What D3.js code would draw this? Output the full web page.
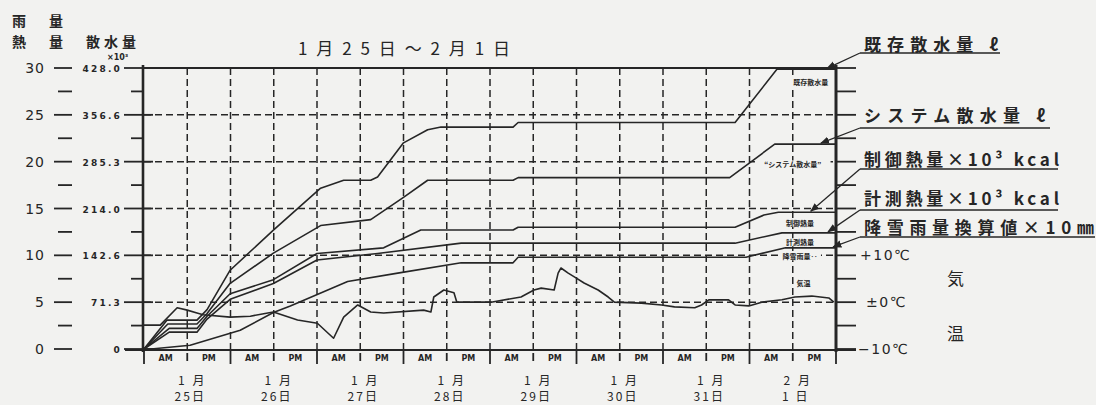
<!DOCTYPE html>
<html>
<head>
<meta charset="utf-8">
<script src="https://cdn.jsdelivr.net/npm/d3@7"></script>
<style>
body { margin: 0; background: #f2f2f0; }
svg text { fill: #262626; }
.jp { font-family: "Noto Sans CJK JP", sans-serif; }
.num { font-family: "DejaVu Sans", sans-serif; }
</style>
</head>
<body>
<svg id="chart" width="1096" height="405"></svg>
<script>
// hours counted from 1/25 0:00 ; sprinkling in x10^3 l, heat in x10^3 kcal, rain in x10 mm
const kizonSpray = [[0,0],[6.4,44],[14.7,44],[17.5,60],[23.9,120],[35.9,181],[49,245],[55.4,257],[62.9,257],[64.8,262],[72,314],[78.7,334],[82.4,338],[102.4,338],[103.8,345],[164,345],[175.6,426],[192,426]];
const systemSpray = [[0,0],[6.6,38],[14.7,38],[17.5,54],[23.9,100],[35.9,146],[49,188],[62.9,197],[72,231],[78.7,257],[102.4,257],[103.8,261],[162.5,261],[175,312],[192,312]];
const ctrlHeat = [[0,0],[7,2.2],[14.7,2.2],[17.5,3.5],[23.9,5.9],[35.9,7.4],[48,10.2],[66.5,10.8],[76.8,12.7],[102.4,12.7],[103.8,13.0],[164,13.0],[172,14.3],[176,14.6],[192,14.6]];
const measHeat = [[0,0],[7,1.8],[14.7,1.8],[17.5,3.2],[23.9,5.3],[35.9,7.0],[48,9.5],[64.8,10.2],[88,11.3],[164,11.3],[177,12.4],[192,12.4]];
const snowRain = [[0,0],[2,0],[12.8,0.4],[26.7,2.0],[35.9,3.9],[40.6,4.6],[56.5,7.2],[70.4,8.1],[88,9.2],[102.4,9.2],[103.8,9.8],[167,9.8],[178,10.8],[192,10.8]];
const airTemp = [[0,-4.9],[4.5,-4.9],[9.2,-1.2],[12,-1.7],[14.7,-2.3],[16.4,-2.7],[23.9,-3.2],[29.5,-3.0],[35.9,-2.1],[42.6,-3.8],[48.1,-4.5],[52.6,-7.7],[55.4,-3.2],[59.3,-0.6],[62.9,-2.1],[66.5,-2.3],[77.6,-1.7],[79.6,-2.1],[80.4,1.1],[83.2,2.6],[86,2.0],[86.8,0.0],[96.3,0.0],[104.6,1.1],[108.2,2.6],[110.2,3.0],[113.8,2.6],[114.9,6.2],[115.7,7.3],[117.7,6.2],[119.4,5.4],[122.1,4.1],[126,2.6],[128.8,1.1],[130.5,0.0],[138,-0.2],[143.6,-0.6],[147.2,-1.0],[152.8,-1.2],[154.7,-0.6],[156.7,0.5],[162.2,0.5],[164,-0.6],[167.8,-0.8],[171.4,0.0],[177,0.5],[180.6,1.1],[185.3,1.3],[190,0.9],[191.4,0.0]];

const heatTicks = [0, 5, 10, 15, 20, 25, 30];
const sprayTickLabels = ["0", "71.3", "142.6", "214.0", "285.3", "356.6", "428.0"];
const tempTicks = [-10, 0, 10];
const tempTickLabels = ["−10℃", "±0℃", "+10℃"];
const dayMonths = ["1 月", "1 月", "1 月", "1 月", "1 月", "1 月", "1 月", "2 月"];
const dayDates = ["25日", "26日", "27日", "28日", "29日", "30日", "31日", "1 日"];

const ink = "#262626";
const svg = d3.select("#chart");
svg.append("rect").attr("width", 1096).attr("height", 405).attr("fill", "#f2f2f0");

const x = d3.scaleLinear().domain([0, 192]).range([144, 836]);
const yHeat = d3.scaleLinear().domain([0, 30]).range([349, 68]);
const ySpray = d3.scaleLinear().domain([0, 428]).range([349, 68]);
const yTemp = d3.scaleLinear().domain([-10, 10]).range([yHeat(0), yHeat(10)]);

svg.append("defs").append("marker").attr("id", "arr")
  .attr("viewBox", "0 0 10 10").attr("refX", 9).attr("refY", 5)
  .attr("markerWidth", 7).attr("markerHeight", 7).attr("orient", "auto")
  .append("path").attr("d", "M0,1 L10,5 L0,9 z").attr("fill", ink);

// grid
const grid = svg.append("g").attr("stroke", ink).attr("stroke-width", 1.5).attr("stroke-dasharray", "7,4");
grid.selectAll("line.h").data(heatTicks.slice(1, -1)).join("line")
  .attr("x1", x(0)).attr("x2", x(192)).attr("y1", d => yHeat(d)).attr("y2", d => yHeat(d));
grid.selectAll("line.v").data(d3.range(12, 192, 12)).join("line")
  .attr("x1", d => x(d)).attr("x2", d => x(d)).attr("y1", yHeat(30)).attr("y2", yHeat(0));

// frame
const frame = svg.append("g").attr("stroke", ink).attr("fill", "none");
frame.append("line").attr("x1", x(0) - 1).attr("x2", x(0) - 1).attr("y1", yHeat(30) - 3).attr("y2", yHeat(0) + 3).attr("stroke-width", 2.6);
frame.append("line").attr("x1", x(192)).attr("x2", x(192)).attr("y1", yHeat(30) - 3).attr("y2", yHeat(0) + 3).attr("stroke-width", 3);
frame.append("line").attr("x1", x(0)).attr("x2", x(192)).attr("y1", yHeat(30)).attr("y2", yHeat(30)).attr("stroke-width", 2);
frame.append("line").attr("x1", 125).attr("x2", 856).attr("y1", yHeat(0) + 1).attr("y2", yHeat(0) + 1).attr("stroke-width", 2.2);

// left ticks and labels
const minor = d3.range(0, 30.1, 2.5);
frame.selectAll("line.lm").data(minor).join("line")
  .attr("x1", d => d % 5 === 0 ? 54 : 58).attr("x2", 72)
  .attr("y1", d => yHeat(d)).attr("y2", d => yHeat(d)).attr("stroke-width", 1.8);
frame.selectAll("line.la").data(minor).join("line")
  .attr("x1", d => d % 5 === 0 ? 124 : 131).attr("x2", d => d % 5 === 0 ? 153 : 143)
  .attr("y1", d => yHeat(d)).attr("y2", d => yHeat(d)).attr("stroke-width", 1.8);
frame.selectAll("line.r").data(minor).join("line")
  .attr("x1", x(192)).attr("x2", 856)
  .attr("y1", d => yHeat(d)).attr("y2", d => yHeat(d)).attr("stroke-width", 1.8);

svg.selectAll("text.hl").data(heatTicks).join("text").attr("class", "num")
  .attr("x", 45).attr("y", d => yHeat(d) + 5).attr("text-anchor", "end")
  .attr("font-size", 14).attr("letter-spacing", 1).text(d => d);
svg.selectAll("text.sl").data(heatTicks).join("text").attr("class", "num")
  .attr("x", 122).attr("y", d => yHeat(d) + 4).attr("text-anchor", "end")
  .attr("font-size", 9).attr("font-weight", "bold").attr("letter-spacing", 2.2)
  .text((d, i) => sprayTickLabels[i]);

svg.selectAll("text.tl").data(tempTicks).join("text").attr("class", "num")
  .attr("x", (d, i) => [858, 866, 860][i]).attr("y", d => yTemp(d) + 5)
  .attr("font-size", 14).attr("letter-spacing", 1.5).text((d, i) => tempTickLabels[i]);

// headers
const hdr = [["雨", 12, 26], ["量", 49, 26], ["熱", 12, 47], ["量", 49, 47]];
svg.selectAll("text.hd").data(hdr).join("text").attr("class", "jp")
  .attr("x", d => d[1]).attr("y", d => d[2]).attr("font-size", 14).attr("font-weight", "bold").text(d => d[0]);
svg.append("text").attr("class", "jp").attr("x", 86).attr("y", 47).attr("font-size", 14)
  .attr("font-weight", "bold").attr("textLength", 50).text("散水量");
svg.append("text").attr("class", "num").attr("x", 107).attr("y", 60).attr("font-size", 8)
  .attr("font-weight", "bold").text("×10³");
svg.append("text").attr("class", "jp").attr("x", 298).attr("y", 55).attr("font-size", 17)
  .attr("textLength", 212).attr("lengthAdjust", "spacing").text("1月25日～2月1日");
svg.append("text").attr("class", "jp").attr("x", 947).attr("y", 285).attr("font-size", 17).text("気");
svg.append("text").attr("class", "jp").attr("x", 947).attr("y", 340).attr("font-size", 17).text("温");

// x axis ticks
const xa = svg.append("g").attr("stroke", ink).attr("stroke-width", 1.8);
xa.selectAll("line.d").data(d3.range(0, 193, 24)).join("line")
  .attr("x1", d => x(d)).attr("x2", d => x(d)).attr("y1", 350).attr("y2", 364);
xa.selectAll("line.hd").data(d3.range(12, 192, 24)).join("line")
  .attr("x1", d => x(d)).attr("x2", d => x(d)).attr("y1", 353).attr("y2", 361);
svg.selectAll("text.ap").data(d3.range(6, 192, 12)).join("text").attr("class", "num")
  .attr("x", d => x(d)).attr("y", 361).attr("text-anchor", "middle").attr("font-size", 8)
  .attr("font-weight", "bold").text((d, i) => i % 2 ? "PM" : "AM");
svg.selectAll("text.mo").data(dayMonths).join("text").attr("class", "jp")
  .attr("x", (d, i) => x(i * 24 + 12) + 4).attr("y", 385).attr("text-anchor", "middle")
  .attr("font-size", 12).attr("xml:space", "preserve").text(d => d.replace(" ", "   "));
svg.selectAll("text.dt").data(dayDates).join("text").attr("class", "jp")
  .attr("x", (d, i) => x(i * 24 + 12) + 3).attr("y", 401).attr("text-anchor", "middle")
  .attr("font-size", 12).attr("letter-spacing", 2).attr("xml:space", "preserve").text(d => d);

// series
const series = [
  { d: kizonSpray, y: ySpray }, { d: systemSpray, y: ySpray },
  { d: ctrlHeat, y: yHeat }, { d: measHeat, y: yHeat },
  { d: snowRain, y: yHeat }, { d: airTemp, y: yTemp }
];
series.forEach(s => {
  svg.append("path").datum(s.d).attr("fill", "none").attr("stroke", ink).attr("stroke-width", 1.6)
    .attr("stroke-linejoin", "round")
    .attr("d", d3.line().x(p => x(p[0])).y(p => s.y(p[1])));
});

// small in-plot labels
const inLabels = [["既存散水量", 185, 28.5], ["“システム散水量”", 180, 19.7], ["制御熱量", 182, 13.5],
  ["計測熱量", 182, 11.4], ["降雪雨量‥", 182, 9.9], ["気温", 183, 7.0]];
const il = svg.selectAll("g.il").data(inLabels).join("g")
  .attr("transform", d => `translate(${x(d[1])},${yHeat(d[2])})`);
il.append("rect").attr("x", d => -d[0].length * 4.2).attr("y", -4).attr("height", 8)
  .attr("width", d => d[0].length * 8.4).attr("fill", "#f2f2f0");
il.append("text").attr("class", "jp").attr("text-anchor", "middle").attr("y", 3)
  .attr("font-size", 7).attr("font-weight", "bold").text(d => d[0]);

// legend with leaders
const legend = [
  { t: "既存散水量 ℓ", ty: 51, tw: 134, uy: 53, ue: 1000, s: kizonSpray, sy: ySpray, h: 189.5 },
  { t: "システム散水量 ℓ", ty: 122, tw: 181, uy: 128, ue: 1050, s: systemSpray, sy: ySpray, h: 187.8 },
  { t: "制御熱量×10³ kcal", ty: 166, tw: 195, uy: 169, ue: 1058, s: ctrlHeat, sy: yHeat, h: 185 },
  { t: "計測熱量×10³ kcal", ty: 205, tw: 195, uy: 210, ue: 1058, s: measHeat, sy: yHeat, h: 189.8 },
  { t: "降雪雨量換算値×10㎜", ty: 234, tw: 230, uy: 237, ue: 1095, s: snowRain, sy: yHeat, h: 191.2 }
];
legend.forEach(l => {
  svg.append("text").attr("class", "jp").attr("x", 864).attr("y", l.ty).attr("font-size", 17)
    .attr("font-weight", "bold").attr("textLength", l.tw).attr("lengthAdjust", "spacing").text(l.t);
  svg.append("line").attr("x1", 860).attr("x2", l.ue).attr("y1", l.uy).attr("y2", l.uy)
    .attr("stroke", ink).attr("stroke-width", 1.5);
  const v = l.s[l.s.length - 1][1];
  svg.append("line").attr("x1", 860).attr("y1", l.uy).attr("x2", x(l.h)).attr("y2", l.sy(v) - 1)
    .attr("stroke", ink).attr("stroke-width", 1.3).attr("marker-end", "url(#arr)");
});
</script>
</body>
</html>
